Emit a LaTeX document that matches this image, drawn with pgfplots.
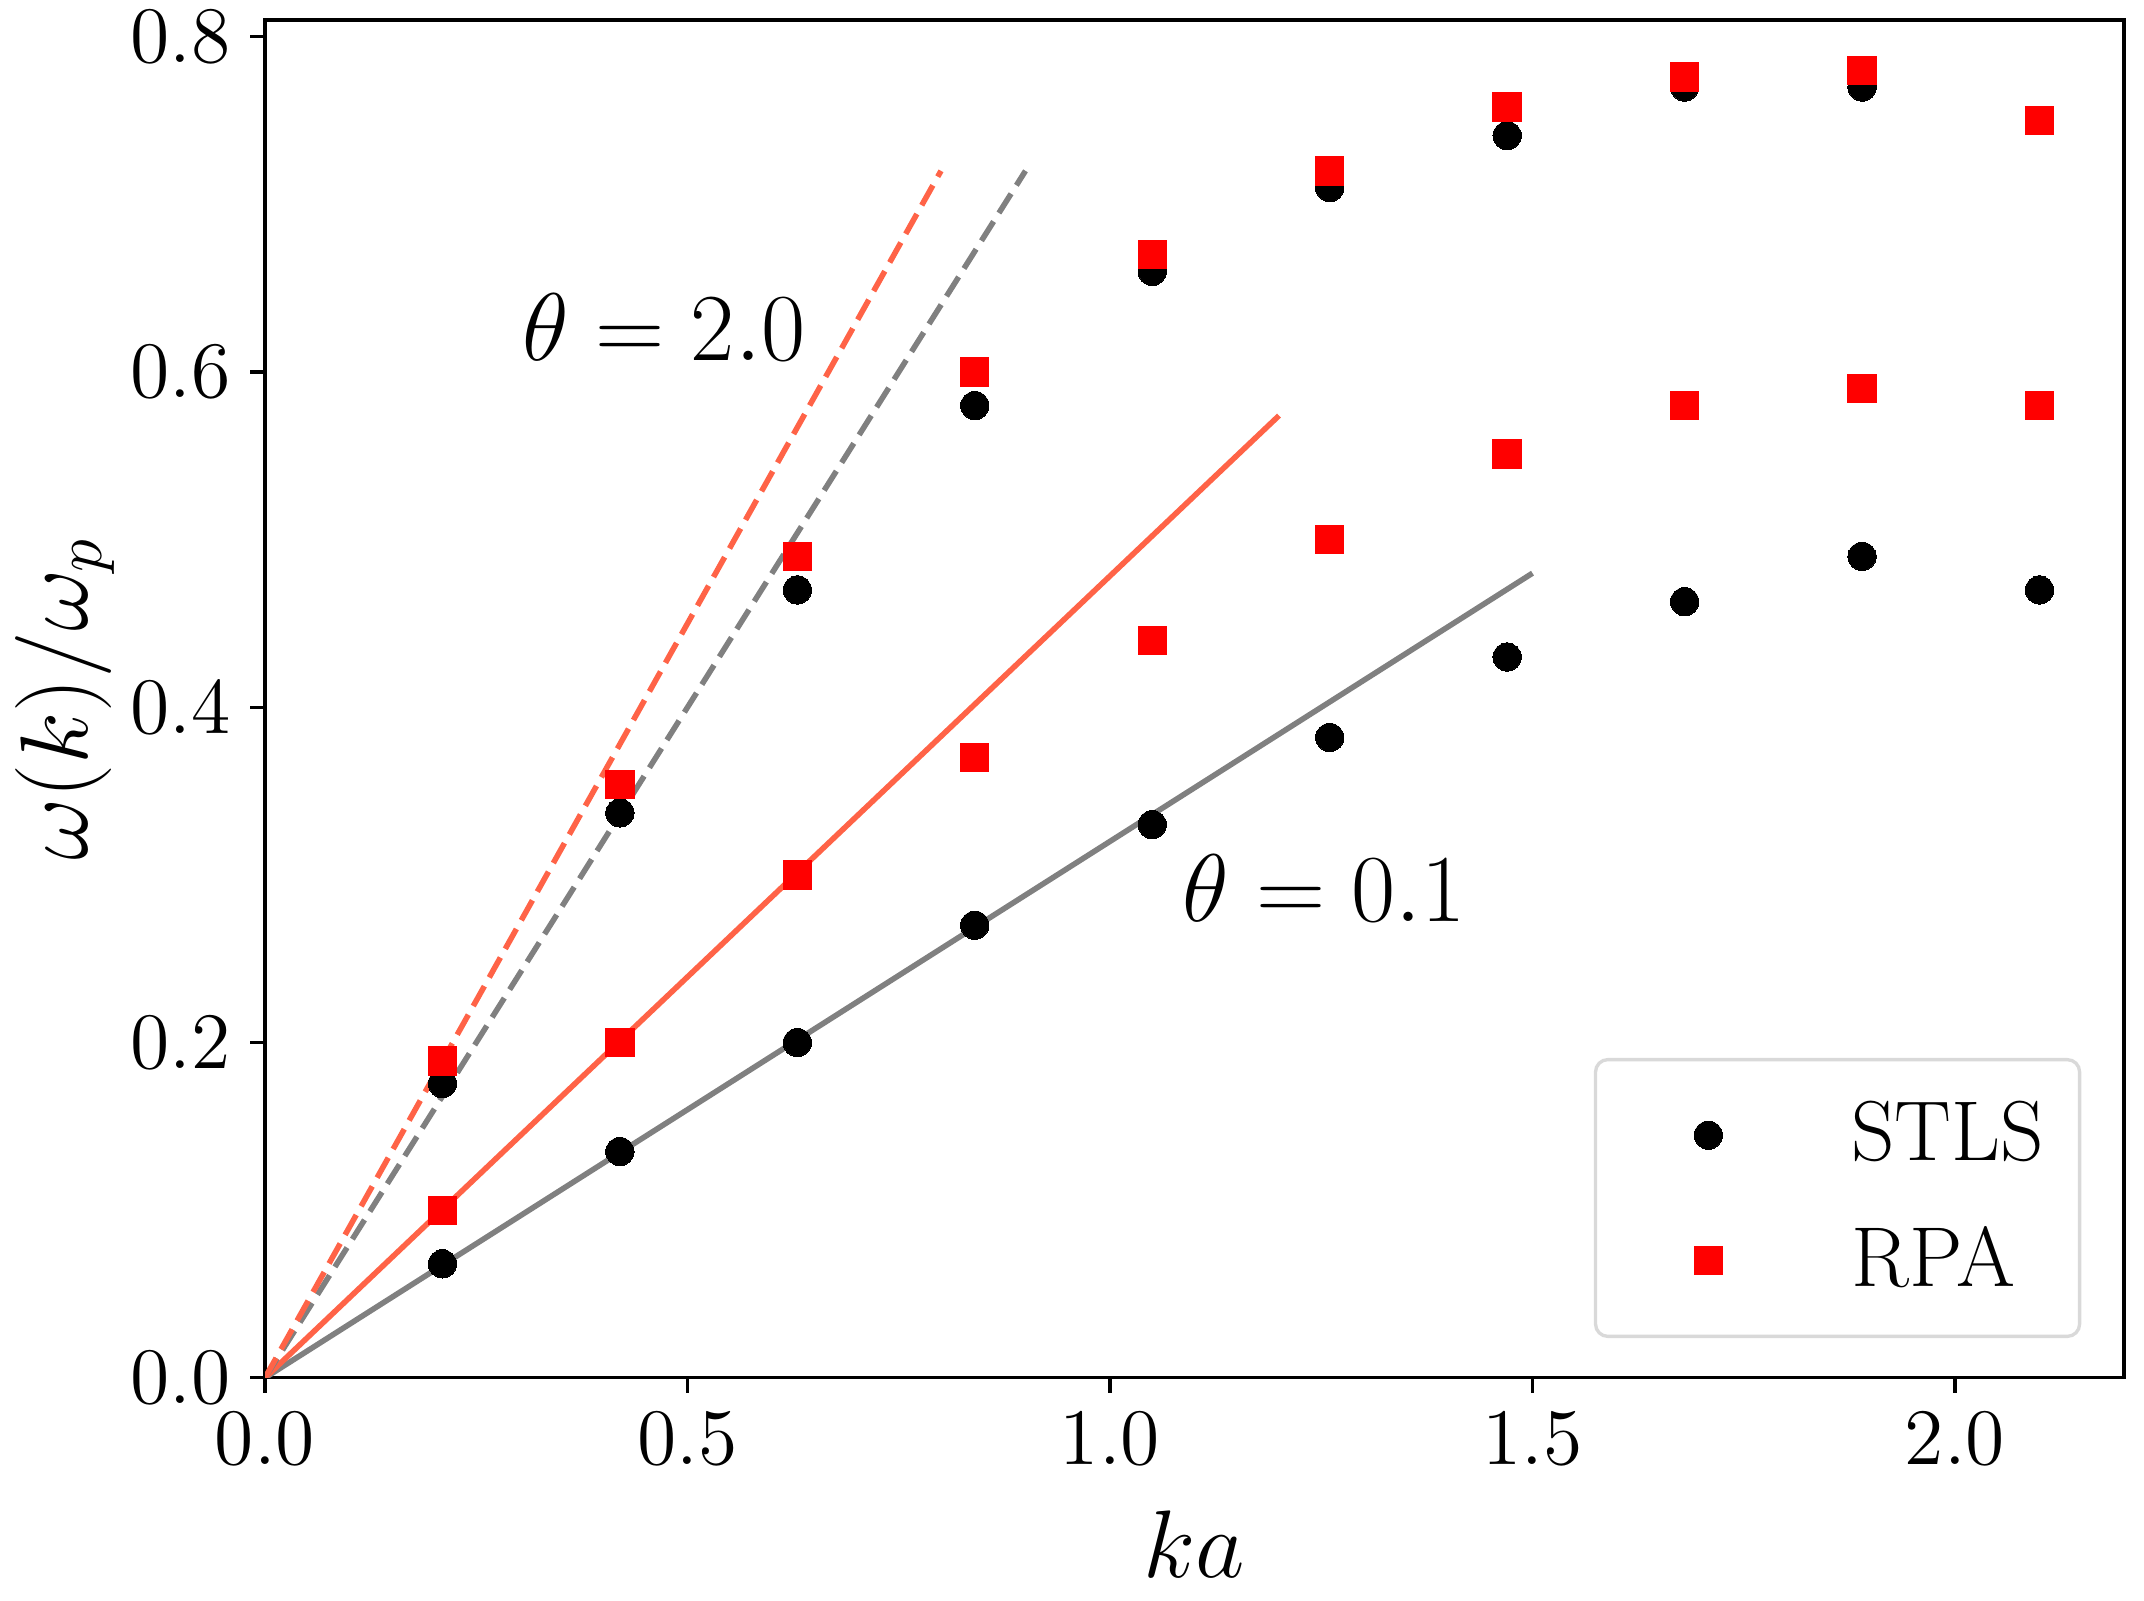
\documentclass[border=0pt]{standalone}
\usepackage{pgfplots}
\pgfplotsset{compat=1.18}
\definecolor{tomato}{HTML}{FF6347}
\definecolor{mgray}{HTML}{808080}
\begin{document}
\begin{tikzpicture}
\begin{axis}[
  scale only axis, width=334.6pt, height=244.4pt,
  xmin=0, xmax=2.2, ymin=0, ymax=0.81,
  xtick={0,0.5,1,1.5,2}, ytick={0,0.2,0.4,0.6,0.8},
  tick align=outside, tick pos=left, major tick length=2.7pt,
  every tick/.style={black, line width=0.6pt},
  axis line style={line width=0.6pt},
  xticklabel style={/pgf/number format/.cd,fixed,fixed zerofill,precision=1},
  yticklabel style={/pgf/number format/.cd,fixed,fixed zerofill,precision=1},
  tick label style={font=\fontsize{15.6}{18}\selectfont},
  label style={font=\fontsize{16.4}{19}\selectfont},
  xlabel={$ka$}, ylabel={$\omega(k)/\omega_p$},
  xlabel style={at={([yshift=-36pt]axis description cs:0.5,0)}, anchor=base},
  ylabel style={at={([xshift=-32pt]axis description cs:0,0.5)}, anchor=base, rotate=0},
  legend style={at={(rel axis cs:0.977,0.0293)}, anchor=south east,
    draw=black!15, line width=0.6pt, rounded corners=2.2pt,
    inner xsep=6.4pt, inner ysep=7.5pt, row sep=10.3pt, column sep=23.2pt,
    font=\fontsize{15.3}{18}\selectfont, nodes={inner sep=0pt}},
  legend cell align=left,
  legend image code/.code={\path (-13.6pt,-5.1pt); \draw[#1] plot coordinates {(0pt,0pt)};},
]
\addplot[only marks, color=black, mark=*, mark size=2.55pt, mark options={fill=black, draw=black, line width=0pt}] coordinates {
 (0.21,0.068) (0.42,0.135) (0.63,0.200) (0.84,0.270) (1.05,0.330) (1.26,0.382) (1.47,0.430) (1.68,0.463) (1.89,0.490) (2.10,0.470)
 (0.21,0.1755) (0.42,0.337) (0.63,0.470) (0.84,0.580) (1.05,0.660) (1.26,0.710) (1.47,0.741) (1.68,0.770) (1.89,0.770) (2.10,0.750)
};
\addlegendentry{STLS}
\addplot[only marks, color=red, mark=square*, mark size=2.55pt, mark options={fill=red, draw=red, line width=0pt}] coordinates {
 (0.21,0.100) (0.42,0.200) (0.63,0.300) (0.84,0.370) (1.05,0.440) (1.26,0.500) (1.47,0.551) (1.68,0.580) (1.89,0.590) (2.10,0.580)
 (0.21,0.189) (0.42,0.354) (0.63,0.490) (0.84,0.600) (1.05,0.670) (1.26,0.720) (1.47,0.758) (1.68,0.776) (1.89,0.780) (2.10,0.750)
};
\addlegendentry{RPA}
\addplot[forget plot, mgray, line width=1.0pt] coordinates {(0,0) (1.5,0.48)};
\addplot[forget plot, tomato, line width=1.0pt] coordinates {(0,0) (1.2,0.574)};
\addplot[forget plot, mgray, line width=1.0pt, dash pattern=on 4.1pt off 1.8pt] coordinates {(0,0) (0.9,0.72)};
\addplot[forget plot, tomato, line width=1.0pt, dash pattern=on 4.1pt off 1.8pt] coordinates {(0,0) (0.8,0.72)};
\node[anchor=base west, inner sep=0pt, font=\fontsize{16.2}{19}\selectfont] at (axis cs:0.303,0.607) {$\theta = 2.0$};
\node[anchor=base west, inner sep=0pt, font=\fontsize{16.2}{19}\selectfont] at (axis cs:1.085,0.272) {$\theta = 0.1$};
\end{axis}
\pgfresetboundingbox
\path[use as bounding box] ([xshift=-47.7pt,yshift=-40pt]current axis.south west) rectangle ([xshift=3.6pt,yshift=3.6pt]current axis.north east);
\end{tikzpicture}
\end{document}
